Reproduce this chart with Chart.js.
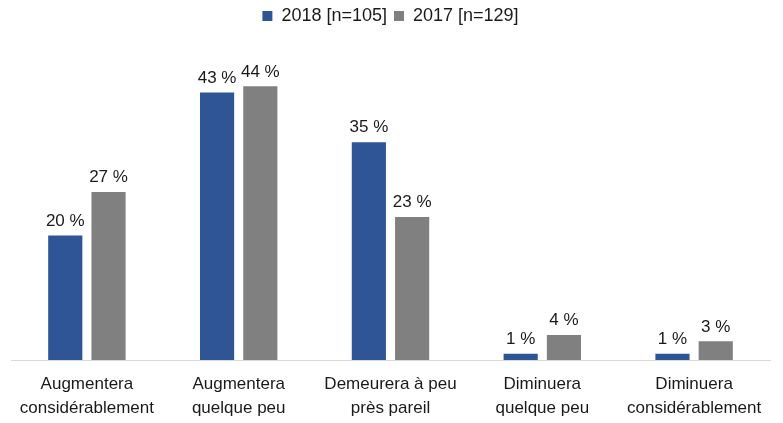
<!DOCTYPE html>
<html>
<head>
<meta charset="utf-8">
<script src="https://cdn.jsdelivr.net/npm/chart.js@4"></script>
<style>
    html, body { margin: 0; padding: 0; background: #fff; }
    #wrap { width: 783px; height: 423px; }
</style>
</head>
<body>
<div id="wrap"><canvas id="barChart" width="783" height="423"></canvas></div>
<script>
const categories = [
    ["Augmentera", "considérablement"],
    ["Augmentera", "quelque peu"],
    ["Demeurera à peu", "près pareil"],
    ["Diminuera", "quelque peu"],
    ["Diminuera", "considérablement"],
];
const values2018 = [20, 43, 35, 1, 1];
const values2017 = [27, 44, 23, 4, 3];
const seriesNames = ["2018 [n=105]", "2017 [n=129]"];

const fontFamily = "'Liberation Sans', Arial, sans-serif";

// draws "xx %" above each bar
const valueLabels = {
    id: "valueLabels",
    afterDatasetsDraw(chart) {
        const ctx = chart.ctx;
        ctx.save();
        ctx.font = `17px ${fontFamily}`;
        ctx.fillStyle = "#1a1a1a";
        ctx.textAlign = "center";
        ctx.textBaseline = "bottom";
        chart.data.datasets.forEach((ds, i) => {
            chart.getDatasetMeta(i).data.forEach((bar, j) => {
                ctx.fillText(`${ds.data[j]} %`, bar.x, bar.y - 6);
            });
        });
        ctx.restore();
    },
};

// a bit more room under the legend
const legendGap = {
    id: "legendGap",
    beforeInit(chart) {
        const fit = chart.legend.fit;
        chart.legend.fit = function () {
            fit.call(this);
            this.height += 14;
        };
    },
};

const ctx = document.getElementById("barChart").getContext("2d");
new Chart(ctx, {
    type: "bar",
    data: {
        labels: categories,
        datasets: [
            {
                label: seriesNames[0],
                data: values2018,
                backgroundColor: "#2f5597",
            },
            {
                label: seriesNames[1],
                data: values2017,
                backgroundColor: "#808080",
            },
        ],
    },
    options: {
        responsive: false,
        animation: false,
        categoryPercentage: 0.57,
        barPercentage: 0.79,
        layout: { padding: { left: 11, right: 13, top: 0, bottom: 0 } },
        plugins: {
            legend: {
                position: "top",
                labels: {
                    boxWidth: 10,
                    boxHeight: 10,
                    padding: 7,
                    color: "#1a1a1a",
                    font: { family: fontFamily, size: 18 },
                },
            },
            tooltip: { enabled: false },
        },
        scales: {
            x: {
                grid: { display: false, drawTicks: false, tickLength: 0 },
                border: { display: true, color: "#d9d9d9", width: 1 },
                ticks: {
                    color: "#1a1a1a",
                    font: { family: fontFamily, size: 17, lineHeight: 1.41 },
                    maxRotation: 0,
                    padding: 12,
                },
                afterFit(scale) {
                    scale.height = 63;
                },
            },
            y: {
                display: false,
                min: 0,
                max: 50,
            },
        },
    },
    plugins: [valueLabels, legendGap],
});
</script>
</body>
</html>
